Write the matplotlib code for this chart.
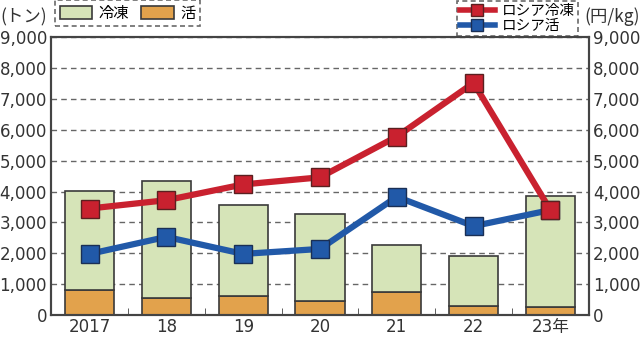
import numpy as np
import matplotlib
matplotlib.use('Agg')
import matplotlib.pyplot as plt
from matplotlib.patches import Patch
from matplotlib.lines import Line2D

plt.rcParams['font.family'] = ['DejaVu Sans', 'Noto Sans CJK JP']

years = ['2017', '18', '19', '20', '21', '22', '23年']
live = [800, 560, 610, 460, 730, 300, 260]          # 活 (トン)
total = [4020, 4350, 3560, 3260, 2270, 1920, 3870]   # 冷凍+活 (トン)
frozen = [t - l for t, l in zip(total, live)]        # 冷凍 (トン)
price_frozen = [3450, 3720, 4230, 4460, 5780, 7520, 3400]  # ロシア冷凍 (円/kg)
price_live = [1980, 2530, 1980, 2140, 3830, 2880, 3400]    # ロシア活 (円/kg)

green = '#d6e4b8'
orange = '#e2a24c'
red = '#c9212f'
blue = '#2159a8'
edge = '#3a3a3a'

fig = plt.figure(figsize=(6.4, 3.38), dpi=100)
ax = fig.add_axes([0.08, 0.068, 0.84, 0.822])
x = np.arange(len(years))

ax.set_axisbelow(True)
ax.yaxis.grid(True, linestyle=(0, (4, 3)), color='#666666', linewidth=1.0)
ax.bar(x, live, width=0.64, color=orange, edgecolor=edge, linewidth=1.2, zorder=2)
ax.bar(x, frozen, width=0.64, bottom=live, color=green, edgecolor=edge, linewidth=1.2, zorder=2)

ax2 = ax.twinx()
ax2.plot(x, price_live, color=blue, lw=4.5, marker='s', ms=13,
         mfc=blue, mec='#1a2f55', mew=1.0, zorder=3)
ax2.plot(x, price_frozen, color=red, lw=4.5, marker='s', ms=13,
         mfc=red, mec='#5a2020', mew=1.0, zorder=4)

for a in (ax, ax2):
    a.set_ylim(0, 9000)
    a.set_yticks(np.arange(0, 9001, 1000))
    a.set_yticklabels([f'{v:,}' for v in range(0, 9001, 1000)], fontsize=12, color='#333333')
    a.tick_params(axis='y', length=0, pad=3)
    for s in a.spines.values():
        s.set_color('#444444')
        s.set_linewidth(1.5)

ax.set_xlim(-0.5, 6.5)
ax.set_xticks(x)
ax.set_xticklabels(years, fontsize=12, color='#333333')
ax.set_xticks(x[:-1] + 0.5, minor=True)
ax.tick_params(axis='x', which='major', length=0, pad=2)
ax.tick_params(axis='x', which='minor', direction='in', length=5, color='#444444')

fig.text(0.0, 0.95, '(トン)', fontsize=12.5, color='#333333', va='center', ha='left',
         family=['Noto Sans CJK JP'])
fig.text(1.0, 0.95, '(円/kg)', fontsize=12.5, color='#333333', va='center', ha='right',
         family=['Noto Sans CJK JP', 'DejaVu Sans'])

h1 = [Patch(facecolor=green, edgecolor=edge, linewidth=1.2),
      Patch(facecolor=orange, edgecolor=edge, linewidth=1.2)]
leg1 = fig.legend(h1, ['冷凍', '活'], loc='upper left', bbox_to_anchor=(0.086, 1.0),
                  ncol=2, frameon=True, fancybox=False, borderaxespad=0,
                  handlelength=2.15, handleheight=0.9, columnspacing=0.8,
                  handletextpad=0.4, borderpad=0.3,
                  prop={'family': ['Noto Sans CJK JP'], 'size': 11})
leg1.get_frame().set_linestyle((0, (3, 2)))
leg1.get_frame().set_edgecolor('#444444')
leg1.get_frame().set_linewidth(1.2)

h2 = [Line2D([], [], color=red, lw=4, marker='s', ms=9, mfc=red, mec='#5a2020'),
      Line2D([], [], color=blue, lw=4, marker='s', ms=9, mfc=blue, mec='#1a2f55')]
leg2 = fig.legend(h2, ['ロシア冷凍', 'ロシア活'], loc='upper right', bbox_to_anchor=(0.903, 0.997),
                  ncol=1, frameon=True, fancybox=False, borderaxespad=0, handlelength=2.4,
                  handletextpad=0.5, borderpad=0.2, labelspacing=0.1,
                  prop={'family': ['Noto Sans CJK JP'], 'size': 10.5})
leg2.get_frame().set_linestyle((0, (3, 2)))
leg2.get_frame().set_edgecolor('#444444')
leg2.get_frame().set_linewidth(1.2)

fig.savefig('out.png', dpi=100)
